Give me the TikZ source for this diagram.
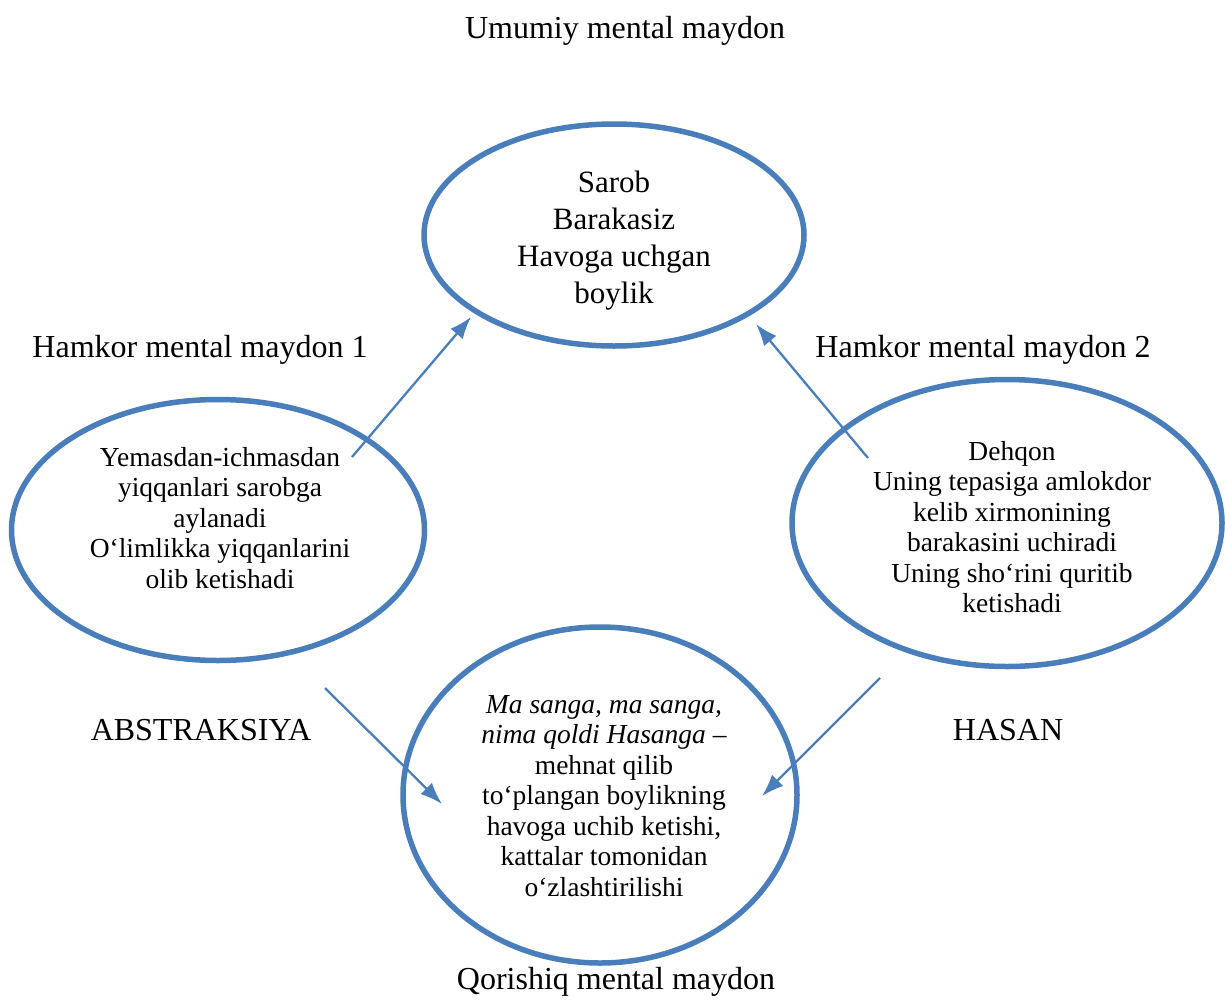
\documentclass[tikz,border=0pt]{standalone}
\usepackage{fontspec}
\setmainfont{Liberation Serif}
\usetikzlibrary{shapes.geometric, arrows.meta}
\definecolor{fieldblue}{RGB}{74,126,187}

\begin{document}
\begin{tikzpicture}[x=1pt, y=-1pt]

\tikzset{field/.style = {shape=ellipse, draw=fieldblue, line width=5.5pt, inner sep=0pt}}
\tikzset{link/.style = {draw=fieldblue, line width=2.3pt, -{Latex[length=22pt, width=16pt]}}}
\tikzset{caption/.style = {font=\fontsize{32}{37}\selectfont}}
\tikzset{inner/.style = {align=center, font=\fontsize{27.5}{30.5}\selectfont}}

\useasboundingbox (0,0) rectangle (1225,999);

%fields
\node[field, minimum width=380pt, minimum height=222pt] (top) at (614,235) {};
\node[field, minimum width=413pt, minimum height=261pt] (left) at (218,530) {};
\node[field, minimum width=430pt, minimum height=287pt] (right) at (1007,523) {};
\node[field, minimum width=394pt, minimum height=336pt] (bottom) at (600,795) {};

%texts
\node[inner, font=\fontsize{31}{37}\selectfont] (toptext) at (614,241) {Sarob\\Barakasiz\\Havoga uchgan\\boylik};
\node[inner] (lefttext) at (220,518) {Yemasdan-ichmasdan\\yiqqanlari sarobga\\aylanadi\\O‘limlikka yiqqanlarini\\olib ketishadi};
\node[inner] (righttext) at (1012,527) {Dehqon\\Uning tepasiga amlokdor\\kelib xirmonining\\barakasini uchiradi\\Uning sho‘rini quritib\\ketishadi};
\node[inner] (bottomtext) at (604,796) {\textit{Ma sanga, ma sanga,}\\\textit{nima qoldi Hasanga} –\\mehnat qilib\\to‘plangan boylikning\\havoga uchib ketishi,\\kattalar tomonidan\\o‘zlashtirilishi};

%labels
\node[caption] (common) at (625,31) {Umumiy mental maydon};
\node[caption] (partner1) at (200,350) {Hamkor mental maydon 1};
\node[caption] (partner2) at (983,350) {Hamkor mental maydon 2};
\node[caption] (abstr) at (201,730) {ABSTRAKSIYA};
\node[caption] (hasan) at (1008,730) {HASAN};
\node[caption] (blend) at (616,982) {Qorishiq mental maydon};

%arrows
\coordinate (l1) at (352,457);
\coordinate (t1) at (471,317);
\coordinate (r1) at (868,458);
\coordinate (t2) at (756,324);
\coordinate (l2) at (325,688);
\coordinate (b1) at (442,804);
\coordinate (r2) at (880,678);
\coordinate (b2) at (762,796);
\draw[link] (l1) -- (t1);
\draw[link] (r1) -- (t2);
\draw[link] (l2) -- (b1);
\draw[link] (r2) -- (b2);

\end{tikzpicture}
\end{document}
